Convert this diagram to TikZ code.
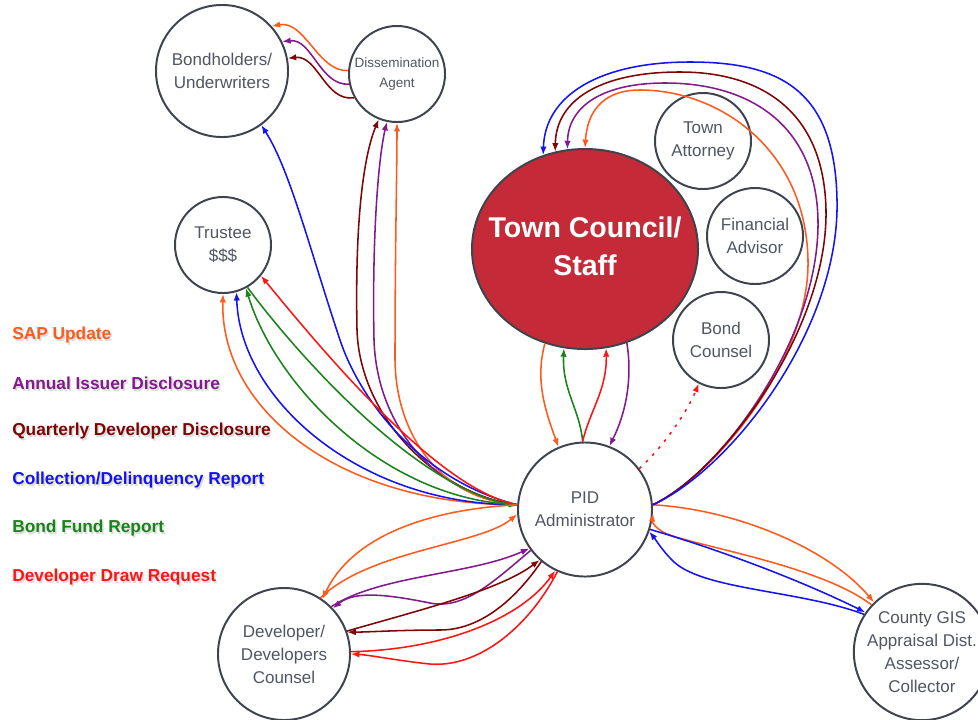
\documentclass[tikz,border=0pt]{standalone}
\usepackage{fontspec}
\setmainfont{Liberation Sans}
\usetikzlibrary{shapes.geometric,arrows.meta}

\definecolor{cOr}{RGB}{255,90,30}
\definecolor{cPu}{RGB}{130,25,140}
\definecolor{cMa}{RGB}{125,5,5}
\definecolor{cBl}{RGB}{20,20,240}
\definecolor{cGr}{RGB}{25,130,25}
\definecolor{cRd}{RGB}{255,20,20}
\definecolor{tcred}{RGB}{196,42,56}
\definecolor{rimgray}{RGB}{62,67,78}
\definecolor{txtgray}{RGB}{80,86,98}

\newcommand{\nodefont}{\fontsize{12.1}{16.4}\selectfont}
\newcommand{\smallnodefont}{\fontsize{9.6}{14.2}\selectfont}
\newcommand{\councilfont}{\bfseries\fontsize{20.3}{27}\selectfont}
\newcommand{\keyfont}{\bfseries\fontsize{12.3}{15}\selectfont}

\begin{document}
\begin{tikzpicture}[x=0.025cm,y=-0.025cm,
  circ/.style={circle, draw=rimgray, line width=1.4pt, fill=white, inner sep=0pt,
    align=center, text=txtgray, font=\nodefont},
  bigc/.style={circ, minimum size=3.3cm},
  smallc/.style={circ, minimum size=2.4cm},
  flow/.style={line width=1.1pt, -{Latex[length=6pt,width=4.6pt]}},
  keytext/.style={anchor=west, font=\keyfont, inner sep=0pt},
  keyshadow/.style={keytext, text=black!14},
]
\useasboundingbox (0,0) rectangle (978,719);
\clip (0,0) rectangle (978,719);

% ---------- legend ----------
\foreach \y/\c/\t in {335/cOr/SAP Update,
                      383/cPu/Annual Issuer Disclosure,
                      431/cMa/Quarterly Developer Disclosure,
                      480/cBl/Collection\slash Delinquency Report,
                      528/cGr/Bond Fund Report,
                      577/cRd/Developer Draw Request}{
  \node[keyshadow] at (13.5,\y+2) {\t};
  \node[keytext, text=\c] (key\y) at (12,\y) {\t};
}

% ---------- parties ----------
\node[bigc] (bond) at (222,71) {Bondholders/\\Underwriters};
\node[smallc, font=\smallnodefont] (dis) at (397,74) {Dissemination\\Agent};
\node[smallc] (trus) at (223,245) {Trustee\\\$\$\$};
% the council's title is set as a centred label so that it does not widen the ellipse
\node[ellipse, draw=rimgray, line width=1.4pt, fill=tcred, minimum width=5.65cm,
      minimum height=5cm, inner sep=0pt,
      label={[align=center, text=white, font=\councilfont, yshift=0.06cm]center:Town Council/\\Staff}]
      (tc) at (585,249) {};
\node[smallc] (att) at (703,141) {Town\\Attorney};
\node[smallc] (fin) at (755,236) {Financial\\Advisor};
\node[smallc] (bc) at (721,340) {Bond\\Counsel};
\node[circ, minimum size=3.35cm] (pid) at (585,509.5) {PID\\Administrator};
\node[bigc] (dev) at (284,654) {Developer/\\Developers\\Counsel};
\node[bigc] (cty) at (922,652) {County GIS\\Appraisal Dist.\\Assessor/\\Collector};

% ---------- dissemination agent to bondholders ----------
\draw[flow, cOr] (dis.176) .. controls (318,72) and (305,20) .. (bond.42);
\draw[flow, cPu] (dis.192) .. controls (320,86) and (312,38) .. (bond.26);
\draw[flow, cMa] (dis.209) .. controls (325,102) and (318,55) .. (bond.11);

% ---------- PID administrator to dissemination agent / bondholders ----------
\draw[flow, cMa] (pid.176) .. controls (440,495) and (360,420) .. (357,330)
                 .. controls (355,230) and (362,160) .. (dis.248);
\draw[flow, cPu] (pid.176) .. controls (440,497) and (377,430) .. (374,340)
                 .. controls (372,240) and (378,160) .. (dis.258);
\draw[flow, cOr] (pid.176) .. controls (445,500) and (396,440) .. (395,360)
                 .. controls (395,250) and (397,170) .. (dis.270);
\draw[flow, cBl] (pid.176) .. controls (420,480) and (360,400) .. (340,340)
                 .. controls (310,250) and (290,170) .. (bond.306);

% ---------- PID administrator and trustee ----------
\draw[flow, cOr] (pid.176) .. controls (340,505) and (220,410) .. (trus.270);
\draw[flow, cBl] (pid.176) .. controls (360,505) and (240,400) .. (trus.286);
\draw[flow, cGr] (pid.176) .. controls (385,500) and (275,385) .. (trus.298);
\draw[flow, cGr] (trus.300) .. controls (290,345) and (410,485) .. (pid.177);
\draw[flow, cRd] (pid.176) .. controls (440,490) and (330,360) .. (trus.321);

% ---------- PID administrator and developer ----------
\draw[flow, cOr] (pid.176) .. controls (420,510) and (350,540) .. (dev.55);
\draw[flow, cOr] (dev.57) .. controls (370,550) and (480,545) .. (pid.184);
\draw[flow, cPu] (dev.45) .. controls (380,575) and (470,575) .. (pid.215);
\draw[flow, cPu] (pid.217) .. controls (495,580) and (465,610) .. (430,603)
                 .. controls (390,595) and (355,590) .. (dev.43);
\draw[flow, cMa] (dev.20) .. controls (420,610) and (500,590) .. (pid.228);
\draw[flow, cMa] (pid.230) .. controls (515,600) and (480,630) .. (440,630)
                 .. controls (400,630) and (370,632) .. (dev.19);
\draw[flow, cRd] (dev.2) .. controls (440,650) and (520,620) .. (pid.244);
\draw[flow, cRd] (pid.246) .. controls (530,625) and (480,668) .. (430,664)
                 .. controls (400,661) and (370,655) .. (dev.0);

% ---------- PID administrator and county ----------
\draw[flow, cOr] (pid.4) .. controls (740,510) and (830,550) .. (cty.134);
\draw[flow, cOr] (cty.137) .. controls (820,565) and (690,545) .. (665,533)
                 .. controls (655,528) and (652,522) .. (pid.357);
\draw[flow, cBl] (pid.343) .. controls (720,550) and (800,580) .. (cty.145);
\draw[flow, cBl] (cty.147) .. controls (800,590) and (700,590) .. (672,560)
                 .. controls (662,550) and (656,540) .. (pid.341);

% ---------- PID administrator and town council (short links) ----------
\draw[flow, cOr] (tc.247) .. controls (535,380) and (545,410) .. (pid.113);
\draw[flow, cGr] (pid.92) .. controls (580,410) and (562,390) .. (tc.258);
\draw[flow, cRd] (pid.92) .. controls (590,410) and (607,390) .. (tc.282);
\draw[flow, cPu] (tc.294) .. controls (633,380) and (625,415) .. (pid.69);

% ---------- PID administrator to town council (loops over the top) ----------
\draw[flow, cOr] (pid.4) .. controls (715,475) and (810,360) .. (808,260)
                 .. controls (806,150) and (720,90) .. (640,90)
                 .. controls (600,90) and (587,115) .. (tc.90);
\draw[flow, cPu] (pid.4) .. controls (718,475) and (820,340) .. (818,220)
                 .. controls (816,125) and (750,83) .. (665,83)
                 .. controls (600,83) and (568,108) .. (tc.100);
\draw[flow, cMa] (pid.4) .. controls (722,472) and (828,330) .. (826,210)
                 .. controls (824,110) and (760,72) .. (680,72)
                 .. controls (600,72) and (556,100) .. (tc.107);
\draw[flow, cBl] (pid.4) .. controls (730,470) and (840,330) .. (837,200)
                 .. controls (835,90) and (780,62) .. (690,62)
                 .. controls (600,62) and (545,95) .. (tc.114);

% ---------- PID administrator to bond counsel ----------
\draw[flow, cRd, dash pattern=on 2pt off 4.5pt] (pid.37) .. controls (665,445) and (688,410) .. (bc.243);
\end{tikzpicture}
\end{document}
